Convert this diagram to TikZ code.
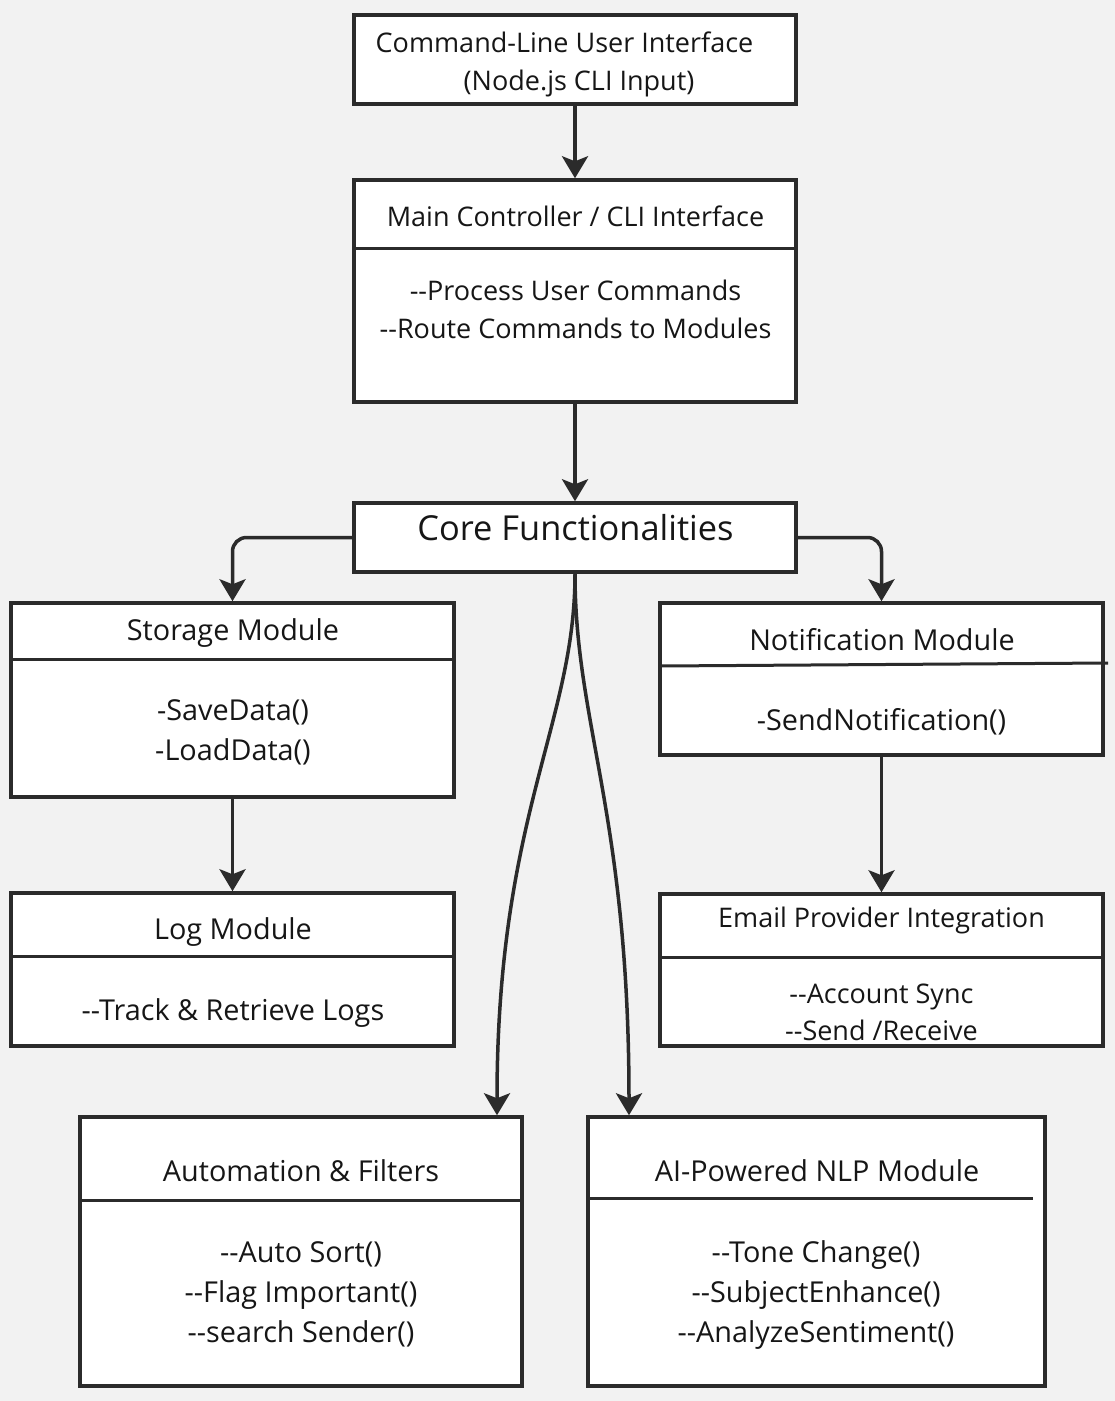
\documentclass[tikz,border=0pt]{standalone}
\usepackage{fontspec}
\setmainfont{Open Sans}[Ligatures=TeXOff]
\usetikzlibrary{arrows.meta}
\definecolor{ink}{HTML}{2B2B2B}
\definecolor{bg}{HTML}{F2F2F2}
\definecolor{txt}{HTML}{161616}
\begin{document}
\begin{tikzpicture}[x=1pt,y=-1pt,
  box/.style={draw=ink,fill=white,line width=3.5pt,rectangle,inner sep=0pt},
  divider/.style={draw=ink,line width=3pt},
  conn/.style={draw=ink,line width=3.5pt,-{Stealth[length=22pt,width=26pt,inset=5pt]}},
  lbl/.style={text=txt,font=\fontsize{28.8}{32}\selectfont,inner sep=0pt,anchor=base},
  biglbl/.style={lbl,font=\fontsize{34.4}{40}\selectfont},
  smlbl/.style={lbl,font=\fontsize{27}{30}\selectfont},
]
\fill[bg] (0,0) rectangle (1115,1401);
\useasboundingbox (0,0) rectangle (1115,1401);

% boxes
\node[box,minimum width=442pt,minimum height=89pt] (cli) at (575,59.5) {};
\node[box,minimum width=442pt,minimum height=222pt] (main) at (575,291) {};
\node[box,minimum width=442pt,minimum height=69pt] (core) at (575,537.5) {};
\node[box,minimum width=443pt,minimum height=194pt] (storage) at (232.5,700) {};
\node[box,minimum width=443pt,minimum height=152pt] (notif) at (881.5,679) {};
\node[box,minimum width=443pt,minimum height=153pt] (log) at (232.5,969.5) {};
\node[box,minimum width=443pt,minimum height=152pt] (email) at (881.5,970) {};
\node[box,minimum width=442pt,minimum height=269pt] (auto) at (301,1251.5) {};
\node[box,minimum width=457pt,minimum height=269pt] (nlp) at (816.5,1251.5) {};

% dividers
\draw[divider] (354,248) -- (796,248);
\draw[divider] (11,659) -- (454,659);
\draw[divider] (660,666) -- (1108,663);
\draw[divider] (11,956) -- (454,956);
\draw[divider] (660,957) -- (1103,957);
\draw[divider] (80,1200) -- (522,1200);
\draw[divider] (588,1198) -- (1033,1198);

% texts
\node[smlbl] (cliA) at (564.5,52) {Command-Line User Interface};
\node[smlbl] (cliB) at (579,90) {(Node.js CLI Input)};
\node[smlbl] (mainT) at (575.5,226) {Main Controller / CLI Interface};
\node[smlbl] (mainA) at (575.5,300) {--Process User Commands};
\node[smlbl] (mainB) at (575.5,338) {--Route Commands to Modules};
\node[biglbl] (coreT) at (575.5,540) {Core Functionalities};
\node[lbl] (stoT) at (233,640) {Storage Module};
\node[lbl] (stoA) at (233,720) {-SaveData()};
\node[lbl] (stoB) at (233,760) {-LoadData()};
\node[lbl] (notT) at (882,650) {Notification Module};
\node[lbl] (notA) at (881.5,730) {-SendNotification()};
\node[lbl] (logT) at (233,939) {Log Module};
\node[lbl] (logA) at (233,1020) {--Track \& Retrieve Logs};
\node[smlbl] (emT) at (881.5,927) {Email Provider Integration};
\node[smlbl] (emA) at (881.5,1003) {--Account Sync};
\node[smlbl] (emB) at (881.5,1040) {--Send /Receive};
\node[lbl] (autT) at (301,1181) {Automation \& Filters};
\node[lbl] (autA) at (301,1262) {--Auto Sort()};
\node[lbl] (autB) at (301,1302) {--Flag Important()};
\node[lbl] (autC) at (301,1342) {--search Sender()};
\node[lbl] (nlpT) at (817,1181) {AI-Powered NLP Module};
\node[lbl] (nlpA) at (816,1262) {--Tone Change()};
\node[lbl] (nlpB) at (816,1302) {--SubjectEnhance()};
\node[lbl] (nlpC) at (816,1342) {--AnalyzeSentiment()};

% connectors
\draw[conn] (cli) -- (main);
\draw[conn] (main) -- (core);
\draw[conn,rounded corners=14pt] (core.west) -| (storage.north);
\draw[conn,rounded corners=14pt] (core.east) -| (notif.north);
\draw[conn] (storage) -- (log);
\draw[conn] (notif) -- (email);
\coordinate (autIn) at ([xshift=196pt]auto.north);
\coordinate (nlpIn) at ([xshift=-187.5pt]nlp.north);
\draw[conn] (core.south) .. controls +(0,150) and +(0,-300) .. (autIn);
\draw[conn] (core.south) .. controls +(0,150) and +(0,-300) .. (nlpIn);
\end{tikzpicture}
\end{document}
